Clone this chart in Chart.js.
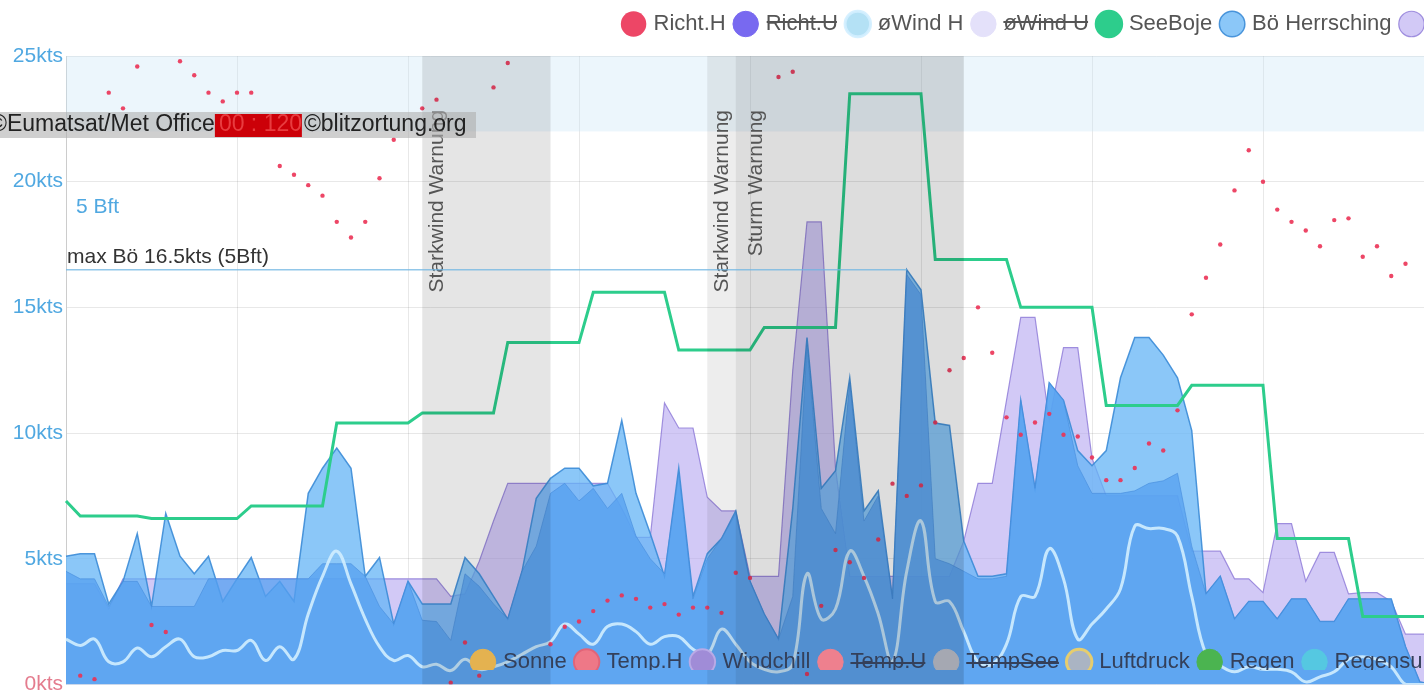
<!DOCTYPE html>
<html>
<head>
<meta charset="utf-8">
<title>Wind Herrsching</title>
<script src="https://cdn.jsdelivr.net/npm/chart.js@4.4.1/dist/chart.umd.min.js"></script>
<style>
  html, body { margin: 0; padding: 0; overflow: hidden; background: #fff; }
  #wrap { position: relative; width: 1533px; height: 700px; }
  #windChart { position: absolute; left: 0; top: 0; }
  #legend2 { position: absolute; left: 0; top: 640px; pointer-events: none; }
</style>
</head>
<body>
<div id="wrap">
  <canvas id="windChart" width="1533" height="700"></canvas>
  <canvas id="legend2" width="1533" height="60"></canvas>
</div>
<script>
Chart.defaults.font.family = "'Liberation Sans', Arial, sans-serif";
Chart.defaults.font.size = 21;
Chart.defaults.animation = false;

// Zeitachse: 5-Minuten-Werte
const labels = [];
for (let m = 0; m <= 102 * 5; m += 5) {
  const t = 10 * 60 + m;
  labels.push(String(Math.floor(t / 60)).padStart(2, '0') + ':' + String(t % 60).padStart(2, '0'));
}

// Windrichtung Herrsching (Grad)
const richtH = [null, 5, 3, 339, 330, 354, 34, 30, 357, 349, 339, 334, 339, 339, null, 297, 292, 286, 280, 265,
  256, 265, 290, 312, null, 330, 335, 1, 24, 5, 342, 356, null, null, 23, 33, 36, 42, 48, 51,
  49, 44, 46, 40, 44, 44, 41, 64, 61, null, 348, 351, 6, 45, 77, 70, 61, 83, 115, 108,
  114, 150, 180, 187, 216, 190, 153, 143, 150, 155, 143, 142, 130, 117, 117, 124, 138, 134, 157, 212,
  233, 252, 283, 306, 288, 272, 265, 260, 251, 266, 267, 245, 251, 234, 241, null, null];

// mittlerer Wind Herrsching (kts)
const windH = [1.8, 1.55, 1.8, 0.9, 0.9, 1.45, 1.1, 1.5, 1.8, 1.1, 1.1, 1.35, 1.35, 1.75, 0.95, 1.5, 1.0, 2.8, 4.3, 5.3,
  4.0, 2.6, 1.5, 0.95, 1.15, 0.7, 0.8, 0.55, 1.0, 0.6, 0.7, 0.9, 1.2, 1.5, 1.7, 2.4, 2.0, 1.6, 2.3, 2.4,
  2.1, 1.6, 1.9, 1.9, 1.4, 1.2, 2.2, 1.6, 0.9, 0.6, 0.5, 0.8, 4.4, 2.6, 3.0, 5.3, 4.3, 2.8, 0.9, 4.5,
  6.5, 3.3, 3.3, 2.1, 0.9, 0.8, 1.6, 3.5, 3.5, 5.4, 4.2, 1.8, 2.4, 3.0, 3.8, 6.3, 6.2, 6.2, 5.9, 3.5,
  1.2, 0.75, 0.5, 0.7, 0.6, 0.6, 0.5, 0.1, 0.3, 0.5, 1.0, 1.1, 1.0, 0.7, 0, 0, 0];

// SeeBoje (kts)
const seeBoje = [7.3, 6.7, 6.7, 6.7, 6.7, 6.7, 6.6, 6.6, 6.6, 6.6, 6.6, 6.6, 6.6, 7.1, 7.1, 7.1, 7.1, 7.1, 7.1, 10.4,
  10.4, 10.4, 10.4, 10.4, 10.4, 10.8, 10.8, 10.8, 10.8, 10.8, 10.8, 13.6, 13.6, 13.6, 13.6, 13.6, 13.6, 15.6, 15.6, 15.6,
  15.6, 15.6, 15.6, 13.3, 13.3, 13.3, 13.3, 13.3, 13.3, 14.2, 14.2, 14.2, 14.2, 14.2, 14.2, 23.5, 23.5, 23.5, 23.5, 23.5,
  23.5, 16.9, 16.9, 16.9, 16.9, 16.9, 16.9, 15.0, 15.0, 15.0, 15.0, 15.0, 15.0, 11.1, 11.1, 11.1, 11.1, 11.1, 11.1, 11.9,
  11.9, 11.9, 11.9, 11.9, 11.9, 5.8, 5.8, 5.8, 5.8, 5.8, 5.8, 2.7, 2.7, 2.7, 2.7, 2.7, 2.7];

// Böen Herrsching (kts)
const boeH = [5.1, 5.2, 5.2, 3.2, 4.1, 6.0, 3.1, 6.8, 5.1, 4.4, 5.1, 3.3, 4.2, 5.05, 3.5, 4.1, 3.3, 7.6, 8.6, 9.4,
  8.6, 4.3, 5.05, 2.4, 4.1, 3.2, 3.2, 3.2, 5.05, 4.4, 3.5, 2.6, 4.5, 7.4, 8.2, 8.6, 8.6, 7.9, 8.0, 10.5,
  7.6, 6.0, 4.3, 8.6, 3.5, 5.2, 5.8, 6.9, 4.1, 2.8, 1.8, 7.0, 13.8, 7.8, 8.5, 12.2, 6.9, 7.7, 3.4, 16.5,
  15.7, 10.4, 10.3, 5.7, 4.3, 4.3, 4.4, 11.3, 7.8, 12.0, 11.3, 9.3, 8.7, 9.3, 12.2, 13.8, 13.8, 13.1, 12.2, 10.1,
  3.6, 4.3, 2.6, 3.3, 3.3, 2.6, 3.4, 3.4, 2.5, 2.5, 3.4, 3.4, 3.4, 3.4, 1.5, 0.1, 0];

// Böen Utting (kts)
const boeU = [4.0, 4.0, 4.0, 3.0, 4.2, 4.2, 4.2, 4.2, 4.2, 4.2, 4.2, 4.2, 4.2, 4.2, 4.2, 4.2, 4.2, 4.2, 4.2, 4.2,
  4.2, 4.2, 4.2, 4.2, 4.2, 4.2, 4.2, 3.5, 3.6, 4.9, 6.5, 8.0, 8.0, 8.0, 8.0, 8.0, 8.0, 8.0, 8.0, 7.0,
  5.85, 5.85, 11.2, 10.2, 10.2, 7.45, 6.9, 6.9, 4.3, 4.3, 4.3, 12.5, 18.4, 18.4, 8.6, 4.3, 4.3, 4.3, 4.3, 4.3,
  4.3, 4.3, 4.3, 5.7, 8.0, 8.0, 11.3, 14.6, 14.6, 10.5, 13.4, 13.4, 9.0, 7.5, 7.5, 7.5, 7.5, 7.5, 7.5, 5.3,
  5.3, 5.3, 4.2, 4.2, 3.65, 6.4, 6.4, 4.1, 5.25, 5.25, 3.6, 3.65, 3.65, 3.3, 2.0, 2.0, 2.0];

// Wind Herrsching (kts)
const windBase = [4.5, 4.2, 4.2, 3.1, 4.1, 4.1, 3.1, 3.1, 3.1, 3.1, 4.2, 4.2, 4.2, 4.2, 4.2, 4.2, 4.2, 4.2, 4.8, 4.8,
  4.8, 4.3, 3.1, 2.4, 4.1, 2.55, 2.5, 1.75, 4.4, 3.9, 3.2, 2.6, 4.5, 5.5, 7.6, 8.0, 7.3, 7.8, 7.0, 7.6,
  5.9, 5.0, 4.4, 8.4, 3.4, 5.0, 5.8, 6.8, 4.1, 2.8, 1.8, 3.5, 13.5, 7.0, 6.0, 12.0, 6.5, 7.5, 3.4, 16.3,
  15.5, 5.0, 4.8, 4.5, 4.2, 4.2, 4.3, 11.3, 7.8, 12.0, 11.3, 8.7, 7.6, 7.6, 7.6, 7.7, 8.0, 8.1, 8.4, 5.5,
  3.6, 4.3, 2.6, 3.3, 3.3, 2.6, 3.4, 3.4, 2.5, 2.5, 3.4, 3.4, 3.4, 3.4, 1.5, 0.1, 0];

// Warnungen (Index von / bis)
const warnings = [
  { from: 25, to: 34, text: 'Starkwind Warnung', shade: 'rgba(0,0,0,0.10)' },
  { from: 45, to: 63, text: 'Starkwind Warnung', shade: 'rgba(0,0,0,0.07)' },
  { from: 47, to: 63, text: 'Sturm Warnung', shade: 'rgba(0,0,0,0.07)' }
];
const bft5 = [17, 21];
const bft6 = 22;

const maxBoe = Math.max(...boeH);
const maxIdx = boeH.indexOf(maxBoe);

// etwas mehr Abstand unter der Legende
const legendGap = {
  id: 'legendGap',
  beforeInit(chart) {
    const fit = chart.legend.fit;
    chart.legend.fit = function () { fit.call(this); this.height += 11; };
  }
};

const overlay = {
  id: 'overlay',
  beforeDatasetsDraw(chart) {
    const { ctx, chartArea: a, scales: { y } } = chart;
    ctx.save();
    ctx.fillStyle = 'rgba(200,228,245,0.35)';
    ctx.fillRect(a.left, a.top, a.right - a.left, y.getPixelForValue(bft6) - a.top);
    ctx.restore();
  },
  afterDatasetsDraw(chart) {
    const { ctx, chartArea: a, scales: { x, y } } = chart;
    ctx.save();
    warnings.forEach(w => {
      const x1 = x.getPixelForValue(w.from), x2 = x.getPixelForValue(w.to);
      ctx.fillStyle = w.shade;
      ctx.fillRect(x1, a.top, x2 - x1, a.bottom - a.top);
    });
    ctx.fillStyle = '#555';
    ctx.font = "21px 'Liberation Sans', Arial";
    warnings.forEach((w, i) => {
      ctx.save();
      ctx.translate(x.getPixelForValue(w.from) + (i === 2 ? 20 : 15), 110);
      ctx.rotate(-Math.PI / 2);
      ctx.textAlign = 'right';
      ctx.textBaseline = 'middle';
      ctx.fillText(w.text, 0, 0);
      ctx.restore();
    });

    // max Bö Linie
    const my = y.getPixelForValue(maxBoe);
    ctx.strokeStyle = 'rgba(110,180,225,0.75)';
    ctx.lineWidth = 1.5;
    ctx.beginPath();
    ctx.moveTo(a.left, my);
    ctx.lineTo(x.getPixelForValue(maxIdx), my);
    ctx.stroke();
    ctx.fillStyle = '#333';
    ctx.textBaseline = 'bottom';
    ctx.textAlign = 'left';
    ctx.fillText('max Bö ' + maxBoe + 'kts (5Bft)', a.left + 1, my - 2);

    ctx.fillStyle = 'rgb(80,168,225)';
    ctx.textBaseline = 'middle';
    ctx.fillText('5 Bft', a.left + 10, y.getPixelForValue((bft5[0] + bft5[1]) / 2));

    // Satellitenbild-Quelle
    ctx.fillStyle = 'rgba(175,175,175,0.6)';
    ctx.fillRect(0, 112, 476, 26);
    ctx.font = "23px 'Liberation Sans', Arial";
    ctx.fillStyle = '#222';
    const s1 = '©Eumatsat/Met Office';
    const sx = -10;
    ctx.fillText(s1, sx, 125);
    const bx = sx + ctx.measureText(s1).width;
    ctx.fillStyle = '#cc0008';
    ctx.fillRect(bx, 114, 87, 23);
    ctx.fillStyle = 'rgba(255,110,110,0.55)';
    ctx.fillText('00 : 120', bx + 4, 125);
    ctx.fillStyle = '#222';
    ctx.fillText('©blitzortung.org', bx + 89, 125);
    ctx.restore();
  }
};

new Chart(document.getElementById('windChart'), {
  type: 'line',
  data: {
    labels: labels,
    datasets: [
      { label: 'Richt.H', data: richtH, yAxisID: 'yDir', showLine: false, order: 0,
        pointRadius: 2.2, pointBorderWidth: 0, backgroundColor: 'rgba(235,50,85,0.9)', borderColor: 'rgba(235,50,85,0.9)' },
      { label: 'Richt.U', data: [], yAxisID: 'yDir', hidden: true, showLine: false, order: 1,
        backgroundColor: 'rgb(120,105,240)', borderColor: 'rgb(120,105,240)' },
      { label: 'øWind H', data: windH, order: 2, tension: 0.4, pointRadius: 0, borderWidth: 3,
        borderColor: 'rgba(210,238,255,0.9)', backgroundColor: 'rgb(180,225,245)' },
      { label: 'øWind U', data: [], hidden: true, order: 3,
        borderColor: 'rgb(228,225,250)', backgroundColor: 'rgb(228,225,250)' },
      { label: 'SeeBoje', data: seeBoje, order: 4, pointRadius: 0, borderWidth: 3,
        borderColor: 'rgb(45,205,140)', backgroundColor: 'rgb(45,205,140)', fill: false },
      { label: 'Bö Herrsching', data: boeH, order: 6, pointRadius: 0, borderWidth: 1.5, fill: 'origin',
        borderColor: 'rgba(60,140,215,0.9)', backgroundColor: 'rgba(100,180,245,0.75)' },
      { label: 'Bö Utting', data: boeU, order: 7, pointRadius: 0, borderWidth: 1.2, fill: 'origin',
        borderColor: 'rgba(140,120,215,0.8)', backgroundColor: 'rgba(180,165,240,0.6)' },
      { label: 'Wind Herrsching', data: windBase, order: 5, pointRadius: 0, borderWidth: 1, fill: 'origin',
        borderColor: 'rgba(70,140,220,0.6)', backgroundColor: 'rgba(85,160,240,0.75)' }
    ]
  },
  options: {
    responsive: false,
    events: [],
    layout: { padding: { top: 2 } },
    scales: {
      x: {
        offset: false,
        ticks: { display: false, autoSkip: false },
        grid: { drawTicks: false, color: c => c.index % 12 === 0 ? 'rgba(0,0,0,0.09)' : 'transparent' },
        border: { display: false },
        afterFit: s => { s.height = 0; }
      },
      y: {
        min: 0, max: 25,
        ticks: {
          stepSize: 5, padding: 3,
          color: c => c.tick.value === 0 ? 'rgba(225,110,130,0.9)' : 'rgb(80,168,225)',
          callback: v => v + 'kts'
        },
        grid: { drawTicks: false, color: 'rgba(0,0,0,0.09)' },
        border: { color: 'rgba(0,0,0,0.12)' },
        afterFit: s => { s.width = 66; }
      },
      yDir: { display: false, min: 0, max: 360 },
      yRight: {
        position: 'right',
        ticks: { display: false }, grid: { display: false }, border: { display: false },
        afterFit: s => { s.width = 13.5; }
      }
    },
    plugins: {
      legend: {
        position: 'top',
        align: 'end',
        labels: {
          usePointStyle: true, pointStyle: 'circle', boxWidth: 18, boxHeight: 18, padding: 11,
          color: '#555', font: { size: 22 },
          filter: item => item.datasetIndex !== 7,
          sort: (a, b) => a.datasetIndex - b.datasetIndex
        }
      },
      tooltip: { enabled: false }
    }
  },
  plugins: [legendGap, overlay]
});

// zweite Legende (Temperatur, Druck, Regen)
new Chart(document.getElementById('legend2'), {
  type: 'line',
  data: {
    labels: [],
    datasets: [
      { label: 'Sonne', data: [], backgroundColor: 'rgb(228,178,80)', borderColor: 'rgb(228,178,80)' },
      { label: 'Temp.H', data: [], backgroundColor: 'rgb(238,120,135)', borderColor: 'rgb(225,100,120)', borderWidth: 2 },
      { label: 'Windchill', data: [], backgroundColor: 'rgb(160,140,215)', borderColor: 'rgb(185,170,230)', borderWidth: 2 },
      { label: 'Temp.U', data: [], hidden: true, backgroundColor: 'rgb(238,128,142)', borderColor: 'rgb(238,128,142)' },
      { label: 'TempSee', data: [], hidden: true, backgroundColor: 'rgb(165,168,178)', borderColor: 'rgb(165,168,178)' },
      { label: 'Luftdruck', data: [], backgroundColor: 'rgb(170,180,195)', borderColor: 'rgb(230,205,110)', borderWidth: 3 },
      { label: 'Regen', data: [], backgroundColor: 'rgb(75,180,80)', borderColor: 'rgb(75,180,80)' },
      { label: 'Regensumme', data: [], backgroundColor: 'rgb(85,200,225)', borderColor: 'rgb(85,200,225)' }
    ]
  },
  options: {
    responsive: false,
    events: [],
    layout: { padding: { left: 463 } },
    scales: { x: { display: false }, y: { display: false } },
    plugins: {
      legend: {
        position: 'top',
        align: 'start',
        labels: {
          usePointStyle: true, pointStyle: 'circle', boxWidth: 18, boxHeight: 18, padding: 11,
          color: '#34405a', font: { size: 22 }
        }
      },
      tooltip: { enabled: false }
    }
  }
});
</script>
</body>
</html>
